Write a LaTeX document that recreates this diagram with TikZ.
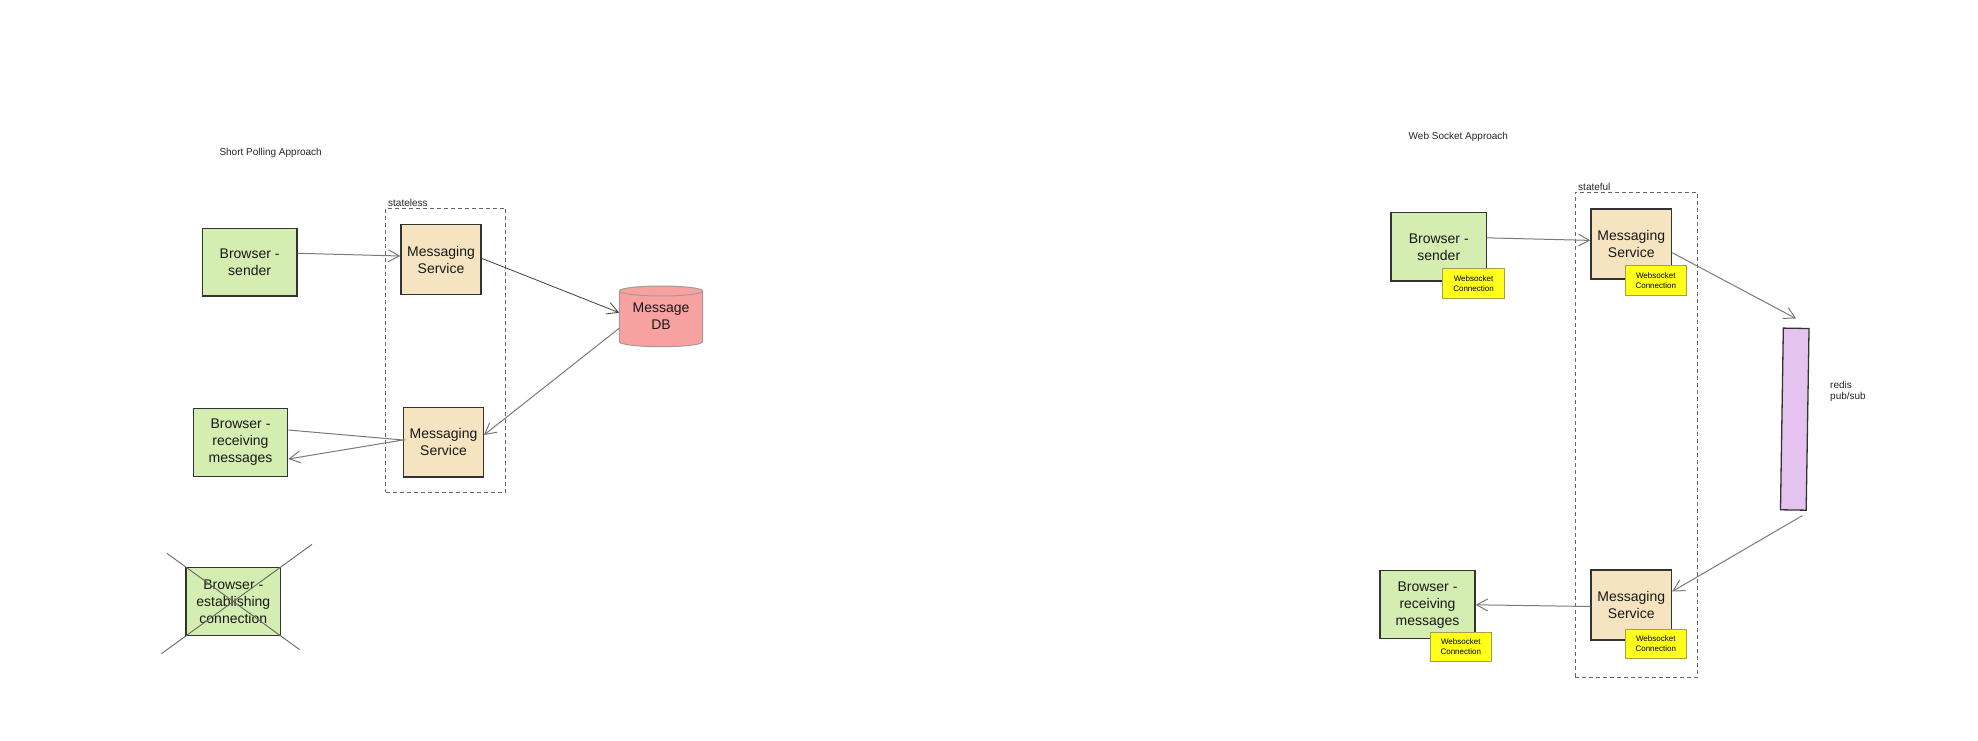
\documentclass[tikz,border=0pt]{standalone}
\usepackage{fontspec}
\setmainfont{Liberation Sans}
\usetikzlibrary{arrows.meta,calc}
\definecolor{boxgreen}{HTML}{D4EDB0}
\definecolor{svcfill}{HTML}{F5E4BF}
\definecolor{dbfill}{HTML}{F8A1A1}
\definecolor{dbline}{HTML}{A89898}
\definecolor{redisfill}{HTML}{E4C4EE}
\definecolor{badgefill}{HTML}{FFFF1A}
\definecolor{badgeline}{HTML}{A89F4A}
\definecolor{edgecol}{HTML}{333333}
\definecolor{conncol}{HTML}{7A7A7A}
\begin{document}
\begin{tikzpicture}[x=1pt,y=1pt,
  box/.style={draw=edgecol, line width=1.3pt, inner sep=0pt, align=center, font=\fontsize{14}{17}\selectfont, text=black!90},
  browser/.style={box, fill=boxgreen, minimum width=95pt},
  svc/.style={box, fill=svcfill},
  badge/.style={draw=badgeline, line width=1pt, fill=badgefill, inner sep=0pt, align=center, minimum width=61.5pt, minimum height=29.5pt, font=\fontsize{8}{9.5}\selectfont},
  lbl/.style={inner sep=0pt, font=\fontsize{10}{11.5}\selectfont, text=black!85},
  conn/.style={draw=conncol, line width=1pt, -{Straight Barb[length=11pt,width=12pt]}},
  group/.style={draw=black!60, dash pattern=on 4pt off 3pt, line width=0.9pt, inner sep=0pt},
  crossline/.style={draw=black!60, line width=0.9pt}]
\useasboundingbox (0,0) rectangle (1978,-741);
\fill[white] (0,0) rectangle (1978,-741);

% ---------------- Short polling ----------------
\node[lbl, anchor=west] (t1) at (219.3,-153.3) {Short Polling Approach};
\node[group, minimum width=120pt, minimum height=284pt] (g1) at (445.7,-350.3) {};
\node[lbl, anchor=base west] (sl) at (388,-206.5) {stateless};

\node[browser, minimum width=94.7pt, minimum height=67.7pt] (s1) at (249.65,-262.15) {Browser -\\sender};
\node[svc, minimum width=80pt, minimum height=69.6pt] (m1a) at (441,-259.5) {Messaging\\Service};
\node[browser, minimum width=94.4pt, minimum height=68pt] (r1) at (240.5,-442.3) {Browser -\\receiving\\messages};
\node[svc, minimum width=79.6pt, minimum height=69.3pt] (m1b) at (443.5,-442.35) {Messaging\\Service};

% database cylinder
\begin{scope}[shift={(661,-316.35)}]
  \path[fill=dbfill, draw=dbline, line width=1pt]
    (-41.7,25.35) -- (-41.7,-25.35)
    arc[start angle=180, end angle=360, x radius=41.7, y radius=5]
    -- (41.7,25.35)
    arc[start angle=0, end angle=180, x radius=41.7, y radius=5] -- cycle;
  \draw[dbline, line width=1pt] (-41.7,25.35)
    arc[start angle=180, end angle=360, x radius=41.7, y radius=5];
\end{scope}
\node[inner sep=0pt, minimum width=83.4pt, minimum height=60.7pt, align=center,
      font=\fontsize{14}{17}\selectfont, text=black!90] (db) at (661,-316.35) {Message\\DB};

\node[browser, minimum width=94.7pt, minimum height=68.4pt] (x1) at (233.3,-601.5) {Browser -\\establishing\\connection};
\draw[crossline] ($(x1.north west)!-0.19!(x1.south east)$) -- ($(x1.north west)!1.19!(x1.south east)$);
\draw[crossline] ($(x1.north east)!-0.32!(x1.south west)$) -- ($(x1.north east)!1.25!(x1.south west)$);

\draw[conn] ([yshift=8.85pt]s1.east) -- ([yshift=3.5pt]m1a.west);
\draw[conn, draw=black!75, line width=0.8pt] ([yshift=1.2pt]m1a.east) -- ([yshift=3.65pt]db.west);
\draw[conn] ([yshift=-11.95pt]db.west) -- ([yshift=7.35pt]m1b.east);
\draw[conn] ([yshift=12.3pt]r1.east) -- ([yshift=2.35pt]m1b.west) -- ([yshift=-16.7pt]r1.east);

% ---------------- Web socket ----------------
\node[lbl, anchor=west] (t2) at (1408.5,-137.3) {Web Socket Approach};
\node[group, minimum width=122pt, minimum height=485.7pt] (g2) at (1636,-434.85) {};
\node[lbl, anchor=base west] (sf) at (1578,-190.5) {stateful};

\node[browser, minimum width=95.5pt, minimum height=68.3pt] (s2) at (1438.75,-246.85) {Browser -\\sender};
\node[badge] (bs2) at (1473.5,-283.5) {Websocket\\Connection};
\node[svc, minimum width=80.5pt, minimum height=70pt] (m2a) at (1631.25,-244) {Messaging\\Service};
\node[badge] (bm2a) at (1655.75,-280.6) {Websocket\\Connection};

\node[draw=edgecol, line width=1.3pt, fill=redisfill, inner sep=0pt, minimum width=25.7pt, minimum height=181.7pt, rotate=-0.9] (redis) at (1794.75,-419.15) {};
\node[lbl, anchor=west, align=left] (rl) at (1830,-391.5) {redis\\pub/sub};

\node[svc, minimum width=80.5pt, minimum height=70pt] (m2b) at (1631.25,-605) {Messaging\\Service};
\node[badge] (bm2b) at (1655.75,-643.75) {Websocket\\Connection};
\node[browser, minimum height=68pt] (r2) at (1427.5,-604.8) {Browser -\\receiving\\messages};
\node[badge] (br2) at (1460.75,-646.75) {Websocket\\Connection};

\draw[conn] ([yshift=9pt]s2.east) -- ([yshift=3.6pt]m2a.west);
\draw[conn] ([yshift=-8.7pt]m2a.east) -- ([yshift=9pt]redis.north);
\draw[conn] ([xshift=9pt,yshift=-5pt]redis.south) -- ([yshift=13.5pt]m2b.east);
\draw[conn] ([yshift=-1.5pt]m2b.west) -- (r2.east);
\end{tikzpicture}
\end{document}
